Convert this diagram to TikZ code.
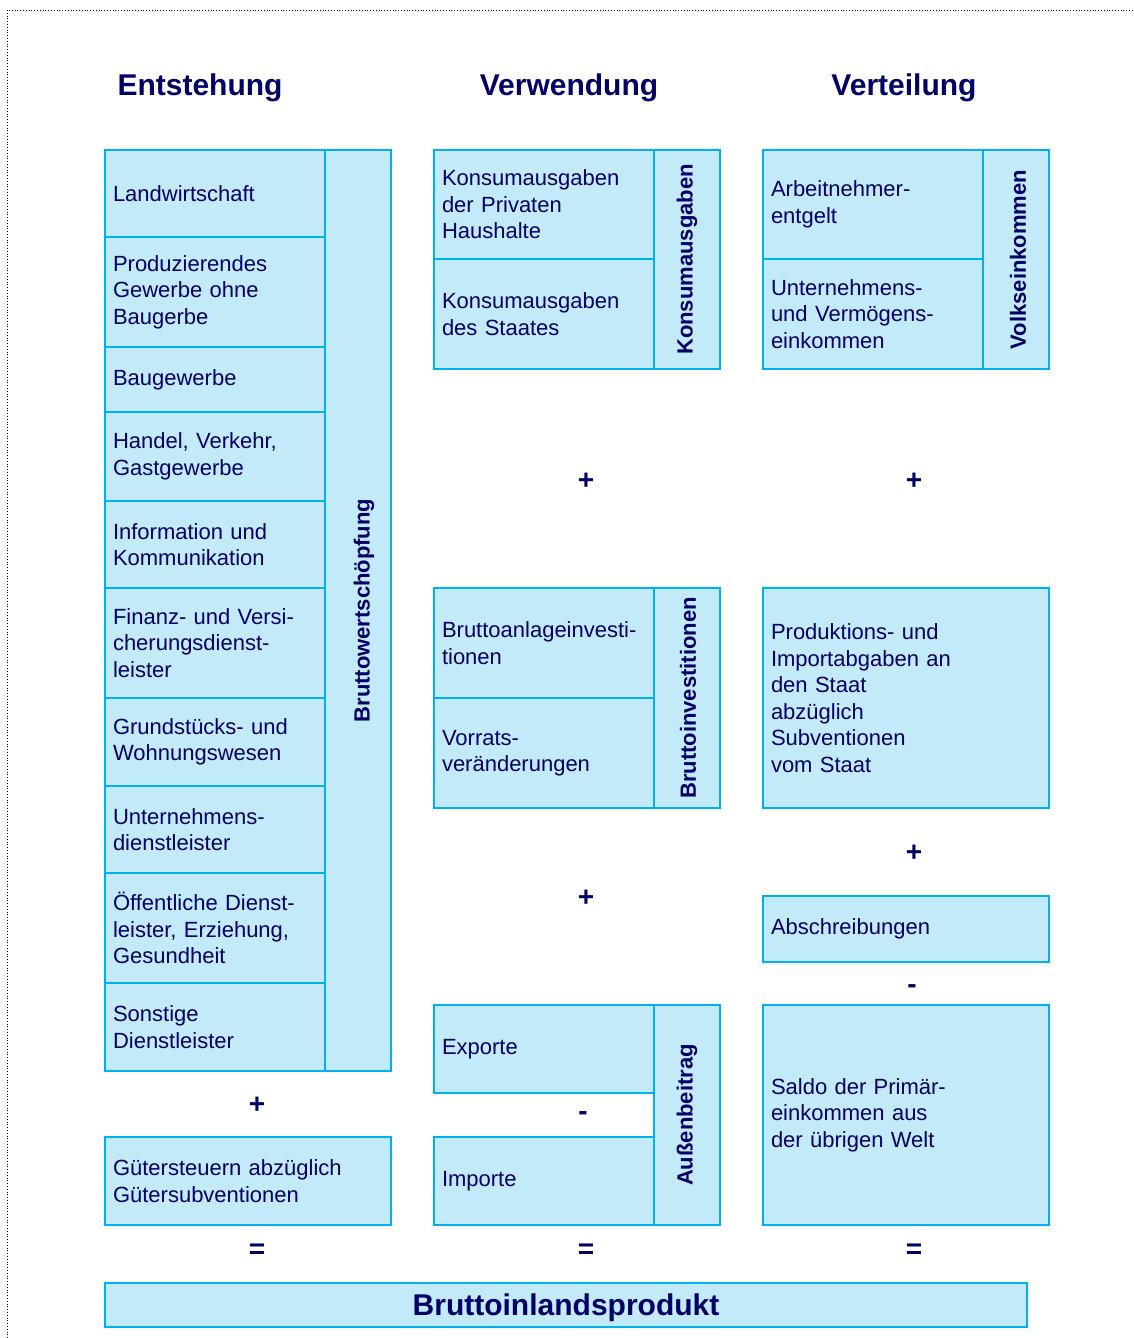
\documentclass[tikz,border=0pt]{standalone}
\usepackage{fontspec}
\setmainfont{Liberation Sans}
\usetikzlibrary{positioning}

\definecolor{cellfill}{RGB}{194,234,249}
\definecolor{cellline}{RGB}{0,176,240}
\definecolor{ink}{RGB}{0,0,102}

\newcommand{\bodyfont}{\fontsize{22}{26.5}\selectfont}
\newcommand{\headfont}{\fontsize{30}{36}\selectfont\bfseries}

\tikzset{
  cell/.style={draw=cellline, fill=cellfill, line width=2.5pt, text=ink,
    inner xsep=8pt, inner ysep=0pt, align=left, font=\bodyfont},
  sidebox/.style={draw=cellline, fill=cellfill, line width=2.5pt, inner sep=0pt},
  sidelabel/.style={rotate=90, text=ink, font=\bodyfont\bfseries, inner sep=0pt},
  heading/.style={text=ink, font=\headfont},
  oper/.style={text=ink, font=\fontsize{28}{30}\selectfont\bfseries, inner sep=0pt}
}

\begin{document}
\begin{tikzpicture}[x=1pt,y=-1pt]
  \useasboundingbox (0,0) rectangle (1133,1338);
  \draw[dotted, line width=0.8pt] (7,1338) -- (7,10) -- (1133,10);

  % headings
  \node[heading] (hEnt) at (200,88) {Entstehung};
  \node[heading] (hVerw) at (569,88) {Verwendung};
  \node[heading] (hVert) at (904,88) {Verteilung};

  % Entstehung
  \node[sidebox, minimum width=66pt, minimum height=921pt] (bws) at (358,610.5) {};
  \node[sidelabel] (bwsText) at ([xshift=6pt]bws.center) {Bruttowertschöpfung};
  \node[cell, text width=204pt, minimum height=87pt] (landw) at (215,193.5) {Landwirtschaft};
  \node[cell, text width=204pt, minimum height=110pt] (prod) at (215,292) {Produzierendes\\Gewerbe ohne\\Baugerbe};
  \node[cell, text width=204pt, minimum height=65pt] (bau) at (215,379.5) {Baugewerbe};
  \node[cell, text width=204pt, minimum height=89pt] (handel) at (215,456.5) {Handel, Verkehr,\\Gastgewerbe};
  \node[cell, text width=204pt, minimum height=87pt] (info) at (215,544.5) {Information und\\Kommunikation};
  \node[cell, text width=204pt, minimum height=110pt] (finanz) at (215,643) {Finanz- und Versi-\\cherungsdienst-\\leister};
  \node[cell, text width=204pt, minimum height=88pt] (grund) at (215,742) {Grundstücks- und\\Wohnungswesen};
  \node[cell, text width=204pt, minimum height=87pt] (untdl) at (215,829.5) {Unternehmens-\\dienstleister};
  \node[cell, text width=204pt, minimum height=110pt] (oeff) at (215,928) {Öffentliche Dienst-\\leister, Erziehung,\\Gesundheit};
  \node[cell, text width=204pt, minimum height=88pt] (sonst) at (215,1027) {Sonstige\\Dienstleister};
  \node[oper] (plusEnt) at (257,1105) {+};
  \node[cell, text width=270pt, minimum height=88pt] (guetst) at (248,1181) {Gütersteuern abzüglich\\Gütersubventionen};
  \node[oper] (eqEnt) at (257,1251) {=};

  % Verwendung
  \node[sidebox, minimum width=66pt, minimum height=219pt] (konsum) at (687,259.5) {};
  \node[sidelabel] (konsumText) at (konsum.center) {Konsumausgaben};
  \node[cell, text width=204pt, minimum height=109pt] (privat) at (544,204.5) {Konsumausgaben\\der Privaten\\Haushalte};
  \node[cell, text width=204pt, minimum height=110pt] (staat) at (544,314) {Konsumausgaben\\des Staates};
  \node[oper] (plusVerw1) at (586,481) {+};
  \node[sidebox, minimum width=66pt, minimum height=220pt] (brinv) at (687,698) {};
  \node[sidelabel] (brinvText) at ([xshift=1pt]brinv.center) {Bruttoinvestitionen};
  \node[cell, text width=204pt, minimum height=110pt] (anlage) at (544,643) {Bruttoanlageinvesti-\\tionen};
  \node[cell, text width=204pt, minimum height=110pt] (vorrat) at (544,753) {Vorrats-\\veränderungen};
  \node[oper] (plusVerw2) at (586,898) {+};
  \node[sidebox, minimum width=66pt, minimum height=220pt] (aussen) at (687,1115) {};
  \node[sidelabel] (aussenText) at (aussen.center) {Außenbeitrag};
  \node[cell, text width=204pt, minimum height=88pt] (export) at (544,1049) {Exporte};
  \node[oper] (minusVerw) at (583,1116) {-};
  \node[cell, text width=204pt, minimum height=88pt] (import) at (544,1181) {Importe};
  \node[oper] (eqVerw) at (586,1251) {=};

  % Verteilung
  \node[sidebox, minimum width=66pt, minimum height=219pt] (volk) at (1016,259.5) {};
  \node[sidelabel] (volkText) at ([xshift=2pt]volk.center) {Volkseinkommen};
  \node[cell, text width=204pt, minimum height=109pt] (arbn) at (873,204.5) {Arbeitnehmer-\\entgelt};
  \node[cell, text width=204pt, minimum height=110pt] (untverm) at (873,314) {Unternehmens-\\und Vermögens-\\einkommen};
  \node[oper] (plusVert1) at (914,481) {+};
  \node[cell, text width=270pt, minimum height=220pt] (abgaben) at (906,698) {Produktions- und\\Importabgaben an\\den Staat\\abzüglich\\Subventionen\\vom Staat};
  \node[oper] (plusVert2) at (914,853) {+};
  \node[cell, text width=270pt, minimum height=66pt] (abschr) at (906,929) {Abschreibungen};
  \node[oper] (minusVert) at (912,989) {-};
  \node[cell, text width=270pt, minimum height=220pt] (saldo) at (906,1115) {Saldo der Primär-\\einkommen aus\\der übrigen Welt};
  \node[oper] (eqVert) at (914,1251) {=};

  % Ergebnis
  \node[cell, minimum width=922pt, minimum height=44pt, text height=28pt, text depth=6.5pt,
    font=\headfont, align=center] (bip) at (566,1305) {Bruttoinlandsprodukt};
\end{tikzpicture}
\end{document}
